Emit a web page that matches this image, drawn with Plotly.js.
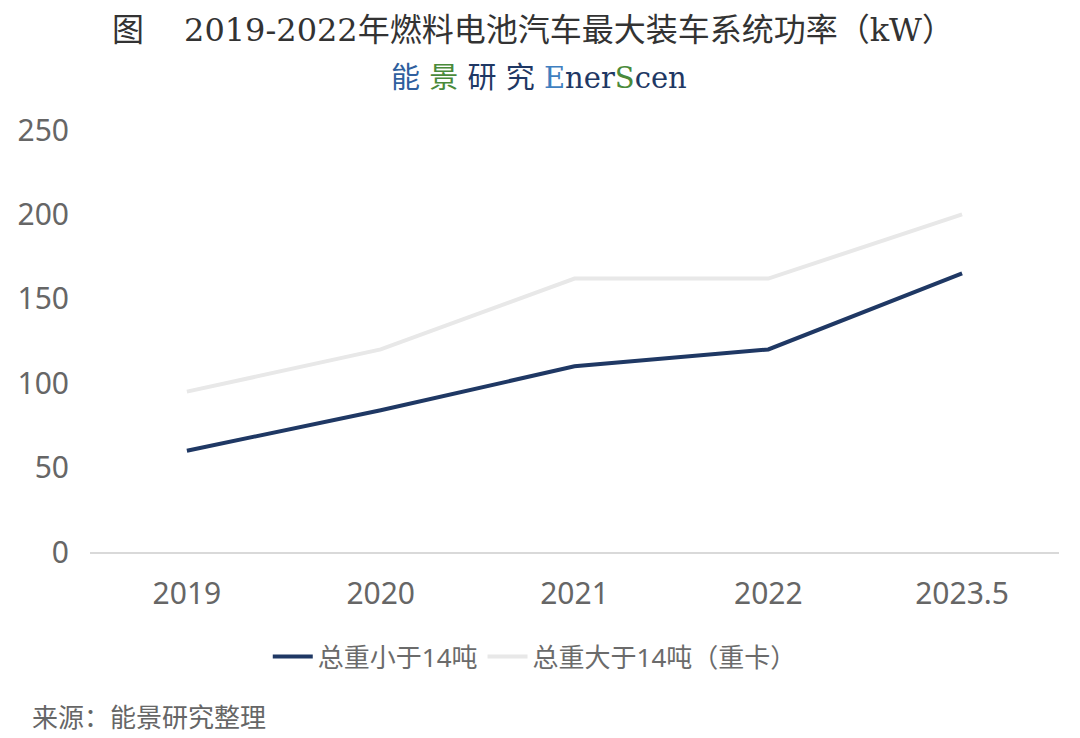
<!DOCTYPE html>
<html>
<head>
<meta charset="utf-8">
<script src="https://cdn.plot.ly/plotly-3.0.1.min.js"></script>
<style>html,body{margin:0;padding:0;background:#fff;}#chart{width:1080px;height:738px;}</style>
</head>
<body>
<div id="chart"></div>
<script>
const categories = ["2019", "2020", "2021", "2022", "2023.5"];
const seriesNames = ["总重小于14吨", "总重大于14吨（重卡）"];
const lightVehicles = [60, 84, 110, 120, 165];
const heavyTrucks = [95, 120, 162, 162, 200];
const yTicks = [0, 50, 100, 150, 200, 250];

const sans = "'Noto Sans', 'Noto Sans CJK SC', sans-serif";
const serif = "'Liberation Serif', 'DejaVu Serif', 'Noto Sans CJK SC', serif";
const serifWide = "'DejaVu Serif', 'Noto Sans CJK SC', serif";

const traces = [
  {x: categories, y: lightVehicles, name: seriesNames[0], type: "scatter", mode: "lines",
   line: {color: "#1f3864", width: 4}},
  {x: categories, y: heavyTrucks, name: seriesNames[1], type: "scatter", mode: "lines",
   line: {color: "#e8e8e8", width: 4}}
];

const layout = {
  width: 1080, height: 738,
  margin: {l: 90, r: 21, t: 130, b: 186},
  paper_bgcolor: "#fff", plot_bgcolor: "#fff",
  showlegend: true,
  legend: {orientation: "h", x: 0.459, xanchor: "center", y: -0.248, yanchor: "middle",
    font: {family: sans, size: 26, color: "#6b6b6b"}, itemwidth: 40, traceorder: "normal"},
  xaxis: {type: "category", range: [-0.5, 4.5], showgrid: false, zeroline: false,
    showline: true, linecolor: "#d9d9d9", linewidth: 1.5, ticks: "",
    tickfont: {family: sans, size: 30, color: "#666"}, ticklabelstandoff: 14},
  yaxis: {range: [0, 250], tickvals: yTicks, showgrid: false, zeroline: false,
    showline: false, ticks: "", tickfont: {family: sans, size: 30, color: "#666"},
    ticklabelstandoff: 20},
  annotations: [
    {text: "图　 <span style='font-family:\"DejaVu Serif\"'>2019-2022</span>年燃料电池汽车最大装车系统功率（<span style='font-family:\"DejaVu Serif\"'>kW</span>）",
     xref: "paper", yref: "paper",
     x: 0.457, y: 1, xanchor: "center", yanchor: "middle", yshift: 100, showarrow: false,
     font: {family: serif, size: 32, color: "#333"}},
    {text: "<span style='color:#2f5f9e'>能</span> <span style='color:#4a8a3a'>景</span> <span style='color:#1f3864'>研</span> <span style='color:#1f3864'>究</span> <span style='color:#3f7fc0'>E</span><span style='color:#1f3864'>ner</span><span style='color:#4a8a3a'>S</span><span style='color:#1f3864'>cen</span>",
     xref: "paper", yref: "paper", x: 0.463, y: 1, xanchor: "center", yanchor: "middle", yshift: 52,
     showarrow: false, font: {family: serifWide, size: 29, color: "#1f3864"}},
    {text: "来源：能景研究整理", xref: "paper", yref: "paper", x: -0.062, y: 0, xanchor: "left",
     yanchor: "middle", yshift: -163, showarrow: false,
     font: {family: "'Noto Sans CJK SC', sans-serif", size: 26, color: "#666"}}
  ]
};

Plotly.newPlot("chart", traces, layout, {displayModeBar: false, staticPlot: true});
</script>
</body>
</html>
